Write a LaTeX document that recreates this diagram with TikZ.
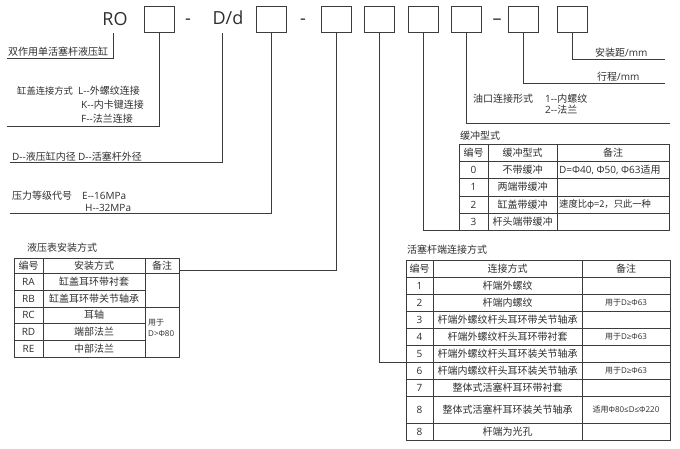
\documentclass[tikz,border=0pt]{standalone}
\usepackage{fontspec}
\setmainfont{Noto Sans CJK SC}
\newfontfamily\lat{Open Sans}
\definecolor{ink}{HTML}{2E2E2E}
\definecolor{rule}{HTML}{3C3C3C}
\tikzset{
  ln/.style={draw=rule, line width=0.9pt},
  codebox/.style={draw=rule, line width=0.9pt, minimum width=30pt, minimum height=26pt, inner sep=0pt},
  lbl/.style={font=\fontsize{10}{12}\selectfont, inner sep=0pt, anchor=west, text=ink},
  cell/.style={font=\fontsize{10}{12}\selectfont, inner sep=0pt, text=ink},
  latcell/.style={font=\fontsize{10}{12}\selectfont\lat, inner sep=0pt, text=ink},
  smallnote/.style={font=\fontsize{8}{9.5}\selectfont, inner sep=0pt, text=ink},
  bigtxt/.style={font=\fontsize{18}{20}\selectfont\lat, inner sep=0pt, text=ink, anchor=base},
}
\begin{document}
\begin{tikzpicture}[x=1pt,y=-1pt]
\useasboundingbox (0,0) rectangle (680,449);

% ---- top code row ----
\node[bigtxt] (ro) at (115,26) {RO};
\node[codebox] (b1) at (159,19) {};
\node[bigtxt] (d1) at (188,25) {-};
\node[bigtxt] (dd) at (228,25) {D/d};
\node[codebox] (b2) at (271,19) {};
\node[bigtxt] (d2) at (303,25) {-};
\node[codebox] (b3) at (336,19) {};
\node[codebox] (b4) at (379.5,19) {};
\node[codebox] (b5) at (423.5,19) {};
\node[codebox] (b6) at (466.5,19) {};
\node[bigtxt] (d3) at (497,25) {–};
\node[codebox] (b7) at (523,19) {};
\node[codebox] (b8) at (572.5,19) {};

% ---- left labels ----
\node[lbl] (t0) at (8,52) {双作用单活塞杆液压缸};
\node[lbl,font=\fontsize{9.3}{12}\selectfont] (t1) at (17,91) {缸盖连接方式};
\node[lbl] (t1a) at (78,91) {{\lat L-{}-}外螺纹连接};
\node[lbl] (t1b) at (81,105) {{\lat K-{}-}内卡键连接};
\node[lbl] (t1c) at (81,119) {{\lat F-{}-}法兰连接};
\node[lbl] (t2) at (12,157) {{\lat D-{}-}液压缸内径 {\lat D-{}-}活塞杆外径};
\node[lbl] (t3) at (12,196) {压力等级代号};
\node[lbl] (t3a) at (82,196) {\lat E-{}-16MPa};
\node[lbl] (t3b) at (85,208) {\lat H-{}-32MPa};

% ---- right labels ----
\node[lbl] (t8) at (595,53) {安装距{\lat /mm}};
\node[lbl] (t7) at (597,77) {行程{\lat /mm}};
\node[lbl] (t6) at (473,99) {油口连接形式};
\node[lbl] (t6a) at (545,99) {{\lat 1-{}-}内螺纹};
\node[lbl] (t6b) at (545,110) {{\lat 2-{}-}法兰};

% ---- connector end points ----
\coordinate (ro-top) at (113,33);
\coordinate (c0) at (7,58);
\coordinate (c1) at (7,126);
\coordinate (dd-top) at (222,33);
\coordinate (c2) at (10,162);
\coordinate (c3) at (10,213);
\coordinate (c4) at (179,270);
\coordinate (c5) at (406,362);
\coordinate (c6) at (459,230);
\coordinate (c7) at (670,123);
\coordinate (c8) at (665,83);
\coordinate (c9) at (665,59);

\draw[ln] (ro-top) |- (c0);
\draw[ln] (b1.south) |- (c1);
\draw[ln] (dd-top) |- (c2);
\draw[ln] (b2.south) |- (c3);
\draw[ln] (b3.south) |- (c4);
\draw[ln] (b4.south) |- (c5);
\draw[ln] (b5.south) |- (c6);
\draw[ln] (b6.south) |- (c7);
\draw[ln] (b7.south) |- (c8);
\draw[ln] (b8.south) |- (c9);

% ---- buffer table ----
\node[lbl] (bt) at (460,136) {缓冲型式};
\draw[ln] (459,144) rectangle (669,230);
\draw[ln] (488,144) -- (488,230) (557,144) -- (557,230);
\foreach \yy in {161,178,196,213} \draw[ln] (459,\yy) -- (669,\yy);
\node[cell] (bh1) at (473.5,152.5) {编号};
\node[cell] (bh2) at (522.5,152.5) {缓冲型式};
\node[cell] (bh3) at (613,152.5) {备注};
\node[latcell] (b0a) at (473.5,169.5) {0};
\node[cell] (b0b) at (522.5,169.5) {不带缓冲};
\node[cell,anchor=west] (b0c) at (559,169.5) {{\lat D=Φ40, Φ50, Φ63}适用};
\node[latcell] (b1a) at (473.5,187) {1};
\node[cell] (b1b) at (522.5,187) {两端带缓冲};
\node[latcell] (b2a) at (473.5,204.5) {2};
\node[cell] (b2b) at (522.5,204.5) {缸盖带缓冲};
\node[cell,anchor=west,font=\fontsize{9.3}{11}\selectfont] (b2c) at (559,204.5) {速度比φ=2，只此一种};
\node[latcell] (b3a) at (473.5,221.5) {3};
\node[cell] (b3b) at (522.5,221.5) {杆头端带缓冲};

% ---- mounting table ----
\node[lbl] (mt) at (27,248) {液压表安装方式};
\draw[ln] (14,258) rectangle (179,357);
\draw[ln] (43,258) -- (43,357) (145,258) -- (145,357);
\draw[ln] (14,273) -- (179,273) (14,307) -- (179,307);
\draw[ln] (14,290) -- (145,290) (14,323) -- (145,323) (14,340) -- (145,340);
\node[cell] (mh1) at (28.5,265.5) {编号};
\node[cell] (mh2) at (94,265.5) {安装方式};
\node[cell] (mh3) at (162,265.5) {备注};
\node[latcell] (ma1) at (28.5,281.5) {RA};
\node[cell] (ma2) at (94,281.5) {缸盖耳环带衬套};
\node[latcell] (mb1) at (28.5,298.5) {RB};
\node[cell] (mb2) at (94,298.5) {缸盖耳环带关节轴承};
\node[latcell] (mc1) at (28.5,315) {RC};
\node[cell] (mc2) at (94,315) {耳轴};
\node[latcell] (md1) at (28.5,331.5) {RD};
\node[cell] (md2) at (94,331.5) {端部法兰};
\node[latcell] (me1) at (28.5,348.5) {RE};
\node[cell] (me2) at (94,348.5) {中部法兰};
\node[smallnote,anchor=west] (mn1) at (148,323) {用于};
\node[smallnote,anchor=west] (mn2) at (148,334) {\lat D>Φ80};

% ---- rod end table ----
\node[lbl] (rt) at (407,250) {活塞杆端连接方式};
\draw[ln] (406,260) rectangle (670,440);
\draw[ln] (433,260) -- (433,440) (582,260) -- (582,440);
\foreach \yy in {277,294,311,328,345,362,379,396,423} \draw[ln] (406,\yy) -- (670,\yy);
\node[cell] (rh1) at (419.5,268.5) {编号};
\node[cell] (rh2) at (507.5,268.5) {连接方式};
\node[cell] (rh3) at (626,268.5) {备注};
\node[latcell] (r1a) at (419.5,285.5) {1};
\node[cell] (r1b) at (507.5,285.5) {杆端外螺纹};
\node[latcell] (r2a) at (419.5,302.5) {2};
\node[cell] (r2b) at (507.5,302.5) {杆端内螺纹};
\node[smallnote] (r2c) at (626,302.5) {用于{\lat D≥Φ63}};
\node[latcell] (r3a) at (419.5,319.5) {3};
\node[cell] (r3b) at (507.5,319.5) {杆端外螺纹杆头耳环带关节轴承};
\node[latcell] (r4a) at (419.5,336.5) {4};
\node[cell] (r4b) at (507.5,336.5) {杆端外螺纹杆头耳环带衬套};
\node[smallnote] (r4c) at (626,336.5) {用于{\lat D≥Φ63}};
\node[latcell] (r5a) at (419.5,353.5) {5};
\node[cell] (r5b) at (507.5,353.5) {杆端外螺纹杆头耳环装关节轴承};
\node[latcell] (r6a) at (419.5,370.5) {6};
\node[cell] (r6b) at (507.5,370.5) {杆端内螺纹杆头耳环装关节轴承};
\node[smallnote] (r6c) at (626,370.5) {用于{\lat D≥Φ63}};
\node[latcell] (r7a) at (419.5,387.5) {7};
\node[cell] (r7b) at (507.5,387.5) {整体式活塞杆耳环带衬套};
\node[latcell] (r8a) at (419.5,409.5) {8};
\node[cell] (r8b) at (507.5,409.5) {整体式活塞杆耳环装关节轴承};
\node[smallnote] (r8c) at (626,409.5) {适用{\lat Φ80≤D≤Φ220}};
\node[latcell] (r9a) at (419.5,431.5) {8};
\node[cell] (r9b) at (507.5,431.5) {杆端为光孔};
\end{tikzpicture}
\end{document}
